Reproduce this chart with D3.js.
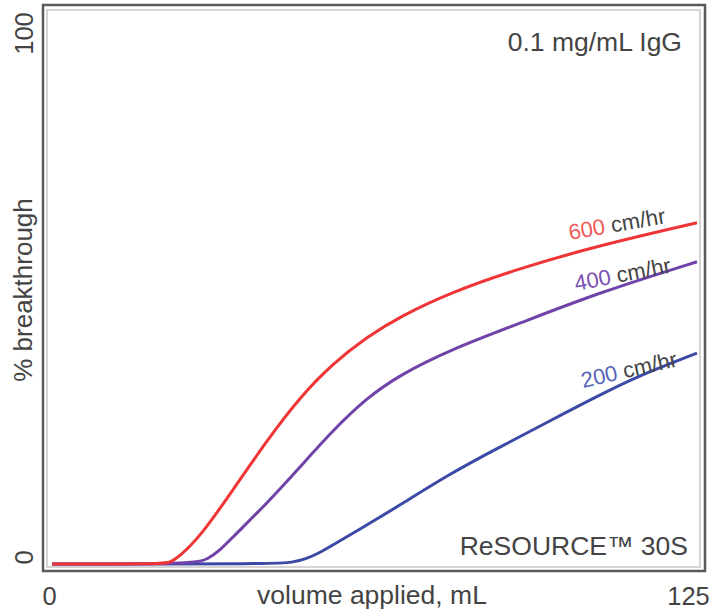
<!DOCTYPE html>
<html>
<head>
<meta charset="utf-8">
<script src="https://cdn.jsdelivr.net/npm/d3@7"></script>
<style>
  body { margin: 0; background: #fff; }
  text { font-family: "Liberation Sans", Arial, sans-serif; fill: #444; }
</style>
</head>
<body>
<svg width="711" height="610"></svg>
<script>
// values: [volume mL, % breakthrough]
const red600 = [[0,0],[21.5,0],[22.9,0.3],[24.8,1.5],[28.7,5.1],[35.1,13.9],[41.7,23.2],[48.1,31.3],[54.5,37.6],[61,42.5],[67.4,46.3],[77.1,50.8],[90.7,55.4],[106.2,59.7],[125,63.9]];
const purple400 = [[0,0],[27.5,0],[30.2,0.9],[32.6,2.6],[35.1,5.1],[41.7,11.4],[48.1,18.2],[54.5,25.1],[61,31.1],[67.4,35.4],[77.1,40.1],[90.7,45.1],[106.2,50.9],[125,56.6]];
const blue200 = [[0,0],[43.5,0],[46.5,0.3],[49,0.9],[51.5,1.9],[54.5,3.6],[61,7.3],[67.4,11],[77.1,16.9],[86.8,21.9],[96.5,26.8],[107.6,32.4],[115.9,36.1],[125,39.5]];
const xTicks = [0, 125];
const yTicks = [0, 100];

let svg = d3.select("svg");

let x = d3.scaleLinear().domain([0, 125]).range([52, 697]);
let y = d3.scaleLinear().domain([0, 100]).range([564, 30]);

// frame: dark outer border with a light inner line
svg.append("rect")
	.attr("x", 47).attr("y", 10).attr("width", 653).attr("height", 557)
	.attr("fill", "none").attr("stroke", "#d4d4d4").attr("stroke-width", 2);
svg.append("rect")
	.attr("x", 43).attr("y", 5).attr("width", 662).attr("height", 566)
	.attr("fill", "none").attr("stroke", "#5a5a5a").attr("stroke-width", 2.5);

// basis keeps the hand-read points from making kinks
let line = d3.line()
	.x(d => x(d[0]))
	.y(d => y(d[1]))
	.curve(d3.curveBasis);

const series = [
	{data: blue200, color: "#3c4aa6"},
	{data: purple400, color: "#7043a8"},
	{data: red600, color: "#ef3535"}
];

svg.append("g")
	.selectAll("path")
	.data(series)
	.enter().append("path")
		.attr("d", d => line(d.data))
		.attr("fill", "none")
		.attr("stroke", d => d.color)
		.attr("stroke-width", 3);

// axes, labels only
let xAxis = svg.append("g")
	.attr("transform", "translate(0,585)")
	.call(d3.axisBottom(x).tickValues(xTicks).tickSize(0).tickFormat(d3.format("d")));
xAxis.select(".domain").remove();
xAxis.selectAll("text")
	.attr("y", 0).attr("dy", "0.8em")
	.attr("dx", d => d === 0 ? -3 : -9)
	.style("font-size", "25.5px").style("fill", "#444")
	.style("font-family", "'Liberation Sans', Arial, sans-serif");

let yAxis = svg.append("g")
	.attr("transform", "translate(33,0)")
	.call(d3.axisLeft(y).tickValues(yTicks).tickSize(0).tickFormat(d3.format("d")));
yAxis.select(".domain").remove();
yAxis.selectAll(".tick text")
	.attr("x", 0).attr("dy", 0)
	.attr("text-anchor", "middle")
	.attr("transform", d => "rotate(-90) translate(" + (d === 0 ? 7 : -3) + ",0)")
	.style("font-size", "25.5px").style("fill", "#444")
	.style("font-family", "'Liberation Sans', Arial, sans-serif");

svg.append("text")
	.attr("x", 372).attr("y", 604)
	.attr("text-anchor", "middle")
	.style("font-size", "26.5px")
	.text("volume applied, mL");

svg.append("text")
	.attr("transform", "translate(32,290) rotate(-90)")
	.attr("text-anchor", "middle")
	.style("font-size", "26px")
	.text("% breakthrough");

svg.append("text")
	.attr("x", 682).attr("y", 51)
	.attr("text-anchor", "end")
	.style("font-size", "26.5px")
	.text("0.1 mg/mL IgG");

svg.append("text")
	.attr("x", 688).attr("y", 555)
	.attr("text-anchor", "end")
	.style("font-size", "26.5px")
	.text("ReSOURCE\u2122 30S");

// curve labels
const curveLabels = [
	{speed: "600", color: "#f05a5a", x: 570, y: 240, angle: -10},
	{speed: "400", color: "#7a50b0", x: 576, y: 291, angle: -11},
	{speed: "200", color: "#5565b6", x: 583, y: 388, angle: -13}
];

let lab = svg.append("g").selectAll("text")
	.data(curveLabels)
	.enter().append("text")
		.attr("transform", d => "translate(" + d.x + "," + d.y + ") rotate(" + d.angle + ")")
		.style("font-size", "22px");
lab.append("tspan")
	.style("fill", d => d.color)
	.text(d => d.speed);
lab.append("tspan")
	.style("fill", "#444")
	.text(" cm/hr");
</script>
</body>
</html>
